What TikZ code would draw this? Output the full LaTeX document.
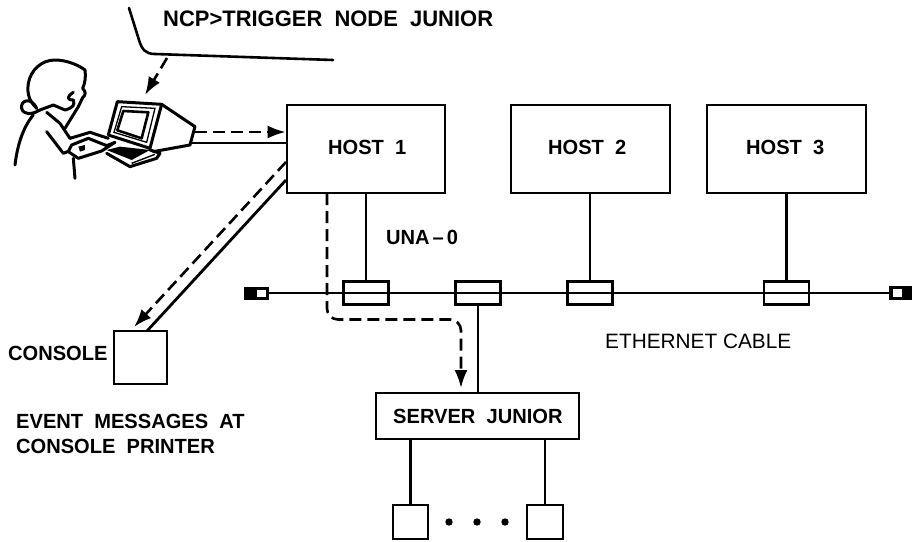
\documentclass[tikz,border=0pt]{standalone}
\usepackage{fontspec}
\setmainfont[FakeStretch=0.98,WordSpace=2]{Liberation Sans Bold}
\newfontfamily\cablefont{Liberation Sans}
\usetikzlibrary{arrows.meta}
\tikzset{
  box/.style={draw=black,fill=white,line width=2.6pt,inner sep=0pt},
  tap/.style={draw=black,line width=2.6pt,inner sep=0pt,minimum width=45pt,minimum height=23pt},
  lbl/.style={inner sep=0pt,font=\fontsize{20.5}{25}\selectfont,align=left,anchor=west},
  wire/.style={line width=2.4pt},
  dashline/.style={line width=2.6pt,dash pattern=on 12pt off 6pt},
  flow/.style={dashline,-{Latex[length=18pt,width=13pt]}},
  art/.style={line width=3pt,line cap=round,line join=round}
}
\begin{document}
\begin{tikzpicture}[x=1pt,y=-1pt]
\useasboundingbox (0,0) rectangle (912,541);
% boxes
\node[box,minimum width=158pt,minimum height=88pt] (h1) at (366,149) {};
\node[box,minimum width=159pt,minimum height=88pt] (h2) at (590.5,149) {};
\node[box,minimum width=159pt,minimum height=88pt] (h3) at (786.5,149) {};
\node[box,minimum width=203pt,minimum height=46pt] (srv) at (477.5,416) {};
\node[box,minimum width=53pt,minimum height=53pt] (con) at (140.5,357.5) {};
\node[box,minimum width=35pt,minimum height=34pt] (d1) at (410.5,522) {};
\node[box,minimum width=36pt,minimum height=34pt] (d2) at (545,522) {};
% bus
\coordinate (bl) at (268,293);
\coordinate (br) at (889,293);
\draw[wire] (bl) -- (br);
\node[tap] (t1) at (366,293) {};
\node[tap] (t2) at (478,293) {};
\node[tap] (t3) at (590,293) {};
\node[tap] (t4) at (786.5,293) {};
\draw[wire] (h1.south -| t1) -- (t1.north);
\draw[wire] (h2.south -| t3) -- (t3.north);
\draw[wire] (h3.south -| t4) -- (t4.north);
\draw[wire] (t2.south) -- (srv.north -| t2);
\draw[wire] (srv.south -| d1) -- (d1.north);
\draw[wire] (srv.south -| d2) -- (d2.north);
% terminators
\fill (244,287) rectangle (269,300);
\fill[white] (257,290) rectangle (266,297);
\fill (889,286) rectangle (912,300);
\fill[white] (893,289) rectangle (902,297);
% texts
\node[lbl,font=\fontsize{22.4}{25}\selectfont] (t0) at (163,19) {NCP>TRIGGER NODE JUNIOR};
\node[lbl] (l1) at (328,147) {HOST 1};
\node[lbl] (l2) at (548,147) {HOST 2};
\node[lbl] (l3) at (746,147) {HOST 3};
\node[lbl] (l4) at (393,416) {SERVER JUNIOR};
\node[lbl] (una) at (386,237) {UNA\kern3pt--\kern3pt0};
\node[lbl,font=\cablefont\fontsize{20.8}{25}\selectfont] (eth) at (605,341) {ETHERNET CABLE};
\node[lbl] (cl) at (8,353) {CONSOLE};
\node[lbl] (ev) at (16,433.5) {EVENT MESSAGES AT\\CONSOLE PRINTER};
\fill (449,522) circle (3.7pt) (477,522) circle (3.7pt) (505,522) circle (3.7pt);
% speech line
\draw[line width=2.6pt,line cap=round] (129,8) -- (139,40) .. controls (142,50) and (146,54) .. (155,54) -- (333,60);
\coordinate (sp) at (167,58);
\coordinate (sq) at (145,95);
\draw[flow] (sp) -- (sq);
% person and terminal, traced in a 3x frame
\begin{scope}[shift={(10,55)},x=0.3333pt,y=-0.3333pt]
\draw[art] (80,160) .. controls (60,140) and (50,120) .. (55,85) .. controls (62,45) and (95,15) .. (135,15) .. controls (170,15) and (205,30) .. (225,45) .. controls (228,65) and (225,85) .. (218,100) .. controls (228,110) and (228,120) .. (218,128) -- (205,155);
\draw[art] (190,112) .. controls (170,125) and (170,135) .. (190,135) .. controls (195,150) and (190,158) .. (165,165) -- (130,150) -- (90,165);
\draw[art] (80,160) .. controls (65,125) and (30,135) .. (35,160) .. controls (40,180) and (65,180) .. (90,165);
\draw[art] (70,180) .. controls (40,215) and (22,270) .. (15,330);
\draw[art] (110,172) -- (150,205) -- (180,250);
\draw[art] (205,155) -- (165,220);
\draw[art] (110,230) -- (160,295) -- (185,285);
\draw[art] (190,310) -- (195,370);
\draw[art] (180,250) -- (240,232) -- (295,250);
\fill (290,285) -- (330,275) -- (420,285) -- (365,315) -- cycle;
\draw[art,fill=white] (185,270) -- (235,250) -- (290,272) -- (315,262) -- (275,288) -- (205,310) -- (175,290) -- cycle;
\fill (205,275) -- (225,270) -- (225,285) -- (210,290) -- cycle;
\draw[art] (290,295) -- (360,335) -- (440,310) -- (450,295) -- (420,285);
\draw[line width=1.4pt] (365,325) -- (435,298);
% terminal
\draw[art,fill=white] (322,140) -- (455,148) -- (420,280) -- (295,240) -- cycle;
\draw[line width=1.3pt] (335,155) -- (435,160) -- (410,262) -- (312,232) -- cycle;
\draw[art,line width=2.6pt] (340,168) -- (415,172) -- (395,250) -- (322,226) -- cycle;
\draw[art] (455,148) -- (555,215) -- (540,270) -- (430,290);
\end{scope}
% links
\coordinate (a1) at (195,132);
\draw[flow] (a1) -- (a1 -| h1.west);
\coordinate (a2) at (191,143);
\draw[line width=2.8pt] (a2) -- (a2 -| h1.west);
\coordinate (c1) at (286,162);
\coordinate (c2) at (286,180);
\coordinate (c3) at (134,327);
\coordinate (c4) at (147,331);
\draw[flow] (c1) -- (c3);
\draw[line width=2.8pt] (c2) -- (c4);
% route
\coordinate (r1) at (327,193);
\coordinate (r2) at (461,388);
\draw[flow,rounded corners=11pt] (r1) -- (327,319.5) -- (461,319.5) -- (r2);
\end{tikzpicture}
\end{document}
